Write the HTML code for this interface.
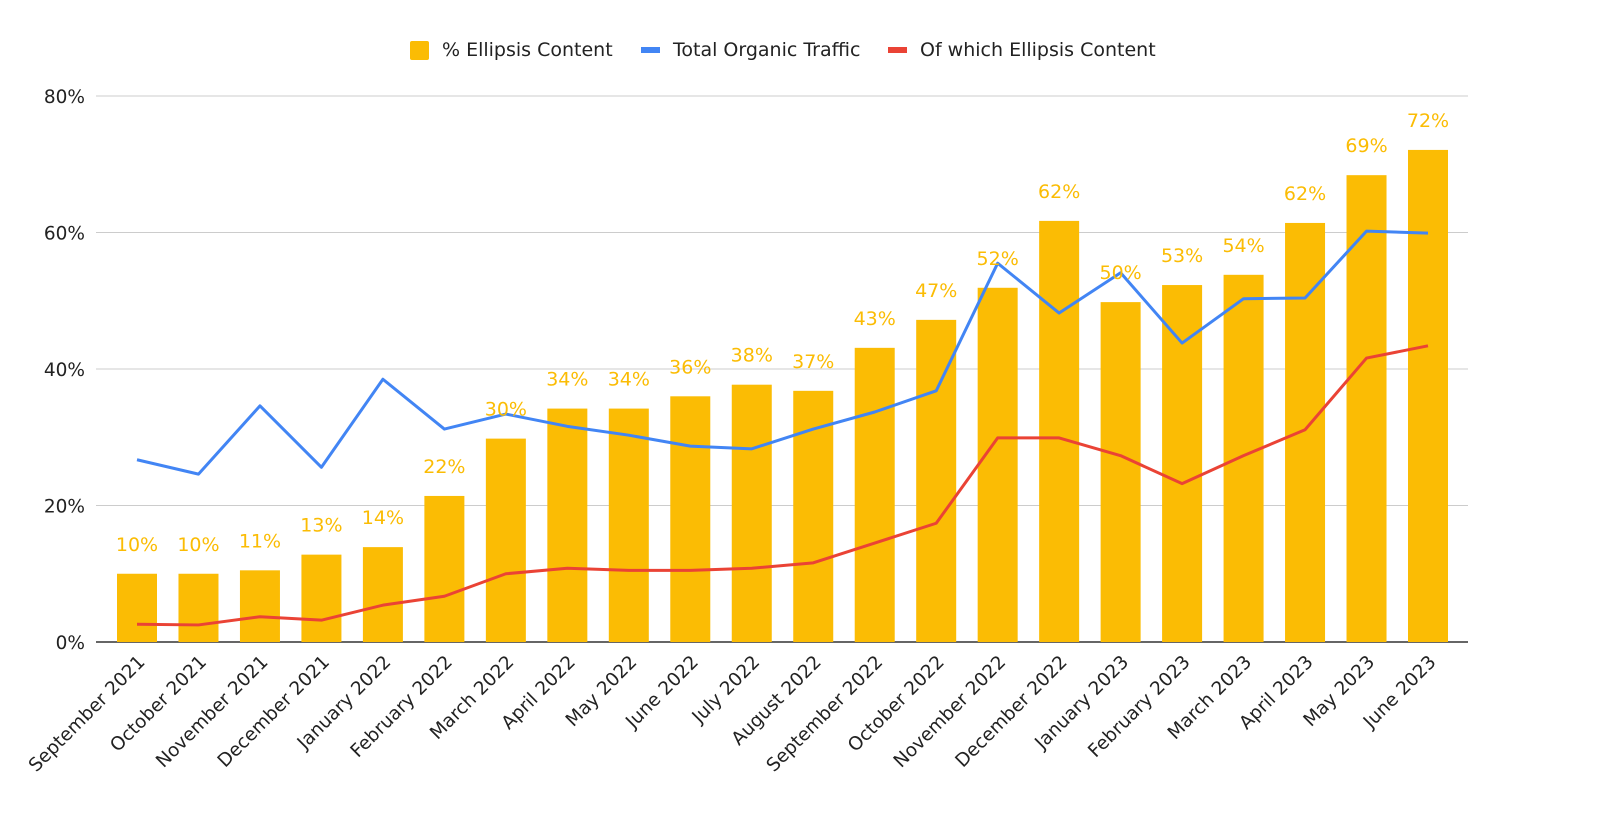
<!DOCTYPE html>
<html><head><meta charset="utf-8"><style>
body{margin:0;background:#fff;}
svg text{font-family:"DejaVu Sans","Liberation Sans",sans-serif;}
</style></head><body>
<svg id="chart" width="1600" height="830" xmlns="http://www.w3.org/2000/svg">
<g>
<rect x="410" y="41" width="19" height="19" rx="2" fill="#fbbc04"/>
<text x="442" y="56" font-size="19" fill="#222">% Ellipsis Content</text>
<rect x="641" y="47" width="19" height="6" fill="#4285f4"/>
<text x="673" y="56" font-size="19" fill="#222">Total Organic Traffic</text>
<rect x="888" y="47" width="19" height="6" fill="#ea4335"/>
<text x="920" y="56" font-size="19" fill="#222">Of which Ellipsis Content</text>
</g>
</svg>
<script>
const categories=["September 2021","October 2021","November 2021","December 2021","January 2022","February 2022","March 2022","April 2022","May 2022","June 2022","July 2022","August 2022","September 2022","October 2022","November 2022","December 2022","January 2023","February 2023","March 2023","April 2023","May 2023","June 2023"];
const pctEllipsis=[10,10,10.5,12.8,13.9,21.4,29.8,34.2,34.2,36,37.7,36.8,43.1,47.2,51.9,61.7,49.8,52.3,53.8,61.4,68.4,72.1];
const barLabels=["10%","10%","11%","13%","14%","22%","30%","34%","34%","36%","38%","37%","43%","47%","52%","62%","50%","53%","54%","62%","69%","72%"];
const totalTraffic=[26.7,24.6,34.6,25.6,38.5,31.2,33.4,31.6,30.3,28.7,28.3,31.2,33.7,36.8,55.5,48.2,54.1,43.8,50.3,50.4,60.2,59.9];
const ellipsisTraffic=[2.6,2.5,3.7,3.2,5.4,6.7,10,10.8,10.5,10.5,10.8,11.6,14.5,17.4,29.9,29.9,27.3,23.2,27.3,31.1,41.6,43.4];
const yTicks=[0,20,40,60,80];
const yTickLabels=["0%","20%","40%","60%","80%"];

const svg=document.getElementById('chart');
const NS="http://www.w3.org/2000/svg";
const y0=642,yTop=96,yMax=80;
const yScale=v=>y0-(v/yMax)*(y0-yTop);
const x0=137,step=(1428-137)/(categories.length-1);
const xScale=i=>x0+i*step;
function mk(tag,attrs){const e=document.createElementNS(NS,tag);for(const k in attrs)e.setAttribute(k,attrs[k]);svg.appendChild(e);return e;}

yTicks.forEach((t,i)=>{
  const g=mk('line',{x1:96,x2:1468,y1:yScale(t),y2:yScale(t),stroke:t===0?'#333':'#ccc','stroke-width':t===0?1.5:1});
  
  
  const l=mk('text',{x:85,y:yScale(t)+7,'font-size':18.5,fill:'#222','text-anchor':'end'});
  l.textContent=yTickLabels[i];
  
  
});

pctEllipsis.forEach((v,i)=>{
  const b=mk('rect',{x:xScale(i)-20,y:yScale(v),width:40,height:y0-yScale(v),fill:'#fbbc04'});
  
  
});

function line(vals,color,name){
  const p=mk('polyline',{points:vals.map((v,i)=>xScale(i)+','+yScale(v)).join(' '),fill:'none',stroke:color,'stroke-width':3,'stroke-linejoin':'round'});
  
  
}
line(totalTraffic,'#4285f4','line-total-organic-traffic');
line(ellipsisTraffic,'#ea4335','line-ellipsis-traffic');

pctEllipsis.forEach((v,i)=>{
  const t=mk('text',{x:xScale(i),y:yScale(v)-23,'font-size':19,fill:'#fbbc04','text-anchor':'middle'});
  t.textContent=barLabels[i];
  
  
});

categories.forEach((c,i)=>{
  const x=xScale(i)+9,y=663;
  const t=mk('text',{x:x,y:y,'font-size':18.5,fill:'#222','text-anchor':'end',transform:`rotate(-45 ${x} ${y})`});
  t.textContent=c;
  
  
});
</script>
</body></html>
